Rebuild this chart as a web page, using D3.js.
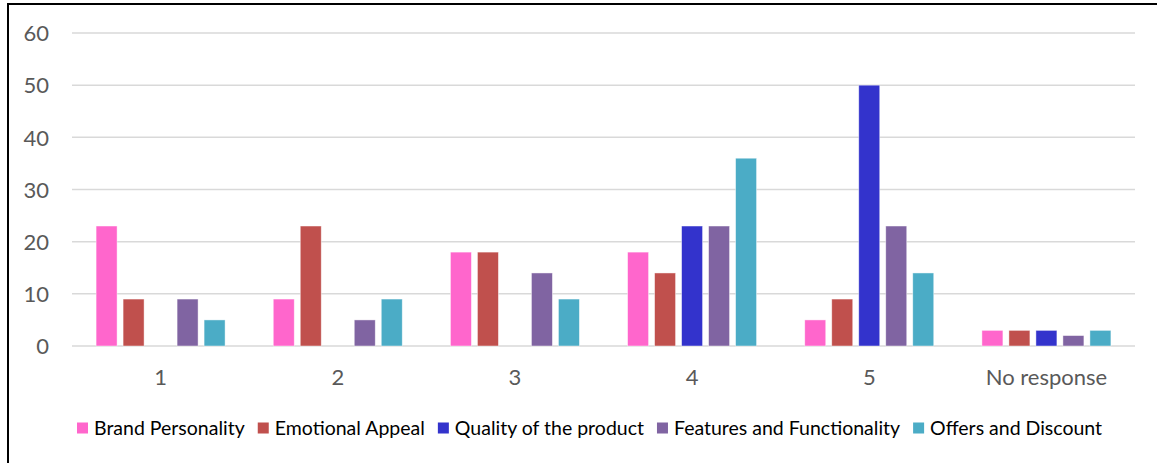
<!DOCTYPE html>
<html>
<head>
<meta charset="utf-8">
<script src="https://cdn.jsdelivr.net/npm/d3@7"></script>
<style>
  html, body { margin: 0; padding: 0; background: #fff; }
  svg { display: block; }
  text { font-family: Lato, "Noto Sans", sans-serif; }
</style>
</head>
<body>
<svg id="chart" width="1157" height="463"></svg>
<script>
// Rating categories along the x axis
const categories = ["1", "2", "3", "4", "5", "No response"];

// One series per factor, values per rating category
const seriesNames = [
  "Brand Personality",
  "Emotional Appeal",
  "Quality of the product",
  "Features and Functionality",
  "Offers and Discount"
];
const brandPersonality        = [23, 9, 18, 18, 5, 3];
const emotionalAppeal         = [9, 23, 18, 14, 9, 3];
const qualityOfProduct        = [0, 0, 0, 23, 50, 3];
const featuresFunctionality   = [9, 5, 14, 23, 23, 2];
const offersDiscount          = [5, 9, 9, 36, 14, 3];
const seriesValues = [brandPersonality, emotionalAppeal, qualityOfProduct, featuresFunctionality, offersDiscount];
const seriesColors = ["#FF66CC", "#C0504D", "#3333CC", "#8064A2", "#4BACC6"];

// Y axis ticks
const yTicks = [0, 10, 20, 30, 40, 50, 60];

const svg = d3.select("#chart");

// Outer frame (top and left edges visible)
svg.append("path")
  .attr("d", "M8,463 L8,4 L1157,4")
  .attr("fill", "none")
  .attr("stroke", "#000")
  .attr("stroke-width", 2);

const plot = { left: 72, right: 1135, top: 33, bottom: 346 };

const y = d3.scaleLinear().domain([0, 60]).range([plot.bottom, plot.top]);
const x0 = d3.scaleBand().domain(categories).range([plot.left, plot.right]).padding(0);
const innerWidth = 129;
const x1 = d3.scaleBand().domain(seriesNames).range([0, innerWidth]).paddingInner(6 / 27).paddingOuter(0);

// Gridlines
svg.append("g")
  .selectAll("line")
  .data(yTicks)
  .join("line")
  .attr("x1", plot.left)
  .attr("x2", plot.right)
  .attr("y1", d => y(d))
  .attr("y2", d => y(d))
  .attr("stroke", "#D9D9D9")
  .attr("stroke-width", 1.5);

// Y axis labels
const yAxis = d3.axisLeft(y).tickValues(yTicks).tickSize(0).tickPadding(0);
const gy = svg.append("g").attr("transform", "translate(49,0)").call(yAxis)
  .attr("font-family", null).attr("font-size", null);
gy.select(".domain").remove();
gy.selectAll("text")
  .attr("fill", "#595959")
  .attr("font-size", 22)
  .attr("dy", "0.35em");

// Category labels
const xAxis = d3.axisBottom(x0).tickSize(0).tickPadding(0);
const gx = svg.append("g").attr("transform", `translate(0,${plot.bottom})`).call(xAxis)
  .attr("font-family", null).attr("font-size", null);
gx.select(".domain").remove();
gx.selectAll("text")
  .attr("fill", "#595959")
  .attr("font-size", 22)
  .attr("y", 31)
  .attr("dy", "0.35em");

// Bars
const groups = svg.append("g")
  .selectAll("g")
  .data(categories)
  .join("g")
  .attr("transform", d => `translate(${x0(d) + (x0.bandwidth() - innerWidth) / 2},0)`);

groups.selectAll("rect")
  .data((c, ci) => seriesNames.map((s, si) => ({ s, si, v: seriesValues[si][ci] })))
  .join("rect")
  .filter(d => d.v > 0)
  .attr("x", d => x1(d.s))
  .attr("width", x1.bandwidth())
  .attr("y", d => y(d.v))
  .attr("height", d => y(0) - y(d.v))
  .attr("fill", d => seriesColors[d.si])
  .attr("stroke", "#fff")
  .attr("stroke-opacity", 0.6)
  .attr("stroke-width", 0.75);

// Legend, laid out left to right
const legend = svg.append("g");
const items = legend.selectAll("g")
  .data(seriesNames)
  .join("g");
items.append("rect")
  .attr("width", 11)
  .attr("height", 11)
  .attr("y", -5.5)
  .attr("fill", (d, i) => seriesColors[i]);
items.append("text")
  .attr("x", 17)
  .attr("dy", "0.35em")
  .attr("font-size", 19.5)
  .attr("fill", "#000")
  .text(d => d);

let cursor = 0;
const gap = 13;
items.each(function () {
  const w = 17 + d3.select(this).select("text").node().getComputedTextLength();
  d3.select(this).attr("transform", `translate(${cursor},0)`);
  cursor += w + gap;
});
legend.attr("transform", "translate(77,428)");
</script>
</body>
</html>
